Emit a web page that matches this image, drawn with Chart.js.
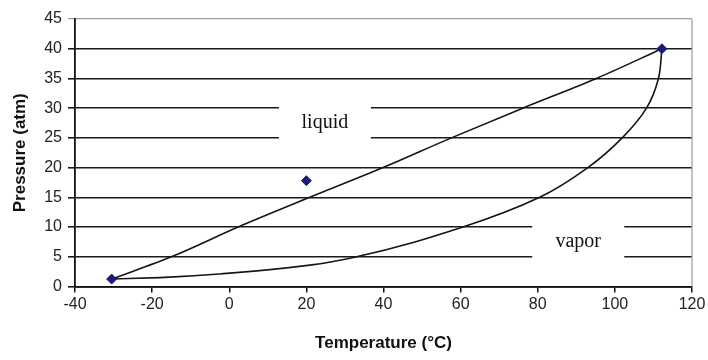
<!DOCTYPE html>
<html>
<head>
<meta charset="utf-8">
<script src="https://cdn.jsdelivr.net/npm/chart.js@4/dist/chart.umd.min.js"></script>
<style>
  html, body { margin: 0; padding: 0; background: #fff; }
  #wrap { width: 708px; height: 360px; }
</style>
</head>
<body>
<div id="wrap"><canvas id="c" width="708" height="360"></canvas></div>
<script>
// ---- data ----
// upper boundary (liquid side)
const upperTemps     = [-30.5, -15, 2.3, 20.9, 39.9, 57.6, 76.1, 95.2, 112.2];
const upperPressures = [1.25, 5, 10, 15, 20, 25, 30, 35, 40];
// lower boundary (vapor side)
const lowerTemps     = [-30.5, -18, -0.7, 20.9, 33, 60.6, 80.5, 93, 101.9, 108.2, 111.3, 112.2];
const lowerPressures = [1.25, 1.5, 2.2, 3.6, 5, 10, 15, 20, 25, 30, 35, 40];
// measured points
const markerTemps     = [-30.5, 20, 112.2];
const markerPressures = [1.25, 17.8, 40];
// region labels
const regionLabels    = ['liquid', 'vapor'];
const regionTemps     = [24.8, 90.5];
const regionPressures = [27.6, 7.6];
const xTickValues = [-40, -20, 0, 20, 40, 60, 80, 100, 120];
const yTickValues = [0, 5, 10, 15, 20, 25, 30, 35, 40, 45];

const toPts = (xs, ys) => xs.map((t, i) => ({ x: t, y: ys[i] }));

const regionPlugin = {
  id: 'regions',
  beforeDatasetsDraw(chart) {
    const ctx = chart.ctx, xs = chart.scales.x, ys = chart.scales.y;
    ctx.save();
    regionLabels.forEach((txt, i) => {
      const px = xs.getPixelForValue(regionTemps[i]);
      const py = ys.getPixelForValue(regionPressures[i]);
      ctx.fillStyle = '#fff';
      ctx.fillRect(px - 46, py - 20, 92, 40);
      ctx.fillStyle = '#111';
      ctx.font = '20px "Liberation Serif", "Times New Roman", serif';
      ctx.textAlign = 'center';
      ctx.textBaseline = 'middle';
      ctx.fillText(txt, px, py);
    });
    const a = chart.chartArea;
    ctx.strokeStyle = '#9a9a9a';
    ctx.lineWidth = 1.2;
    ctx.beginPath();
    ctx.moveTo(a.right, a.top);
    ctx.lineTo(a.right, a.bottom);
    ctx.stroke();
    ctx.restore();
  }
};

const lineStyle = {
  showLine: true,
  borderColor: '#151515',
  borderWidth: 1.6,
  pointRadius: 0,
  fill: false,
  cubicInterpolationMode: 'monotone',
  indexAxis: 'y',
  order: 1
};

new Chart(document.getElementById('c'), {
  type: 'scatter',
  data: {
    datasets: [
      {
        data: toPts(markerTemps, markerPressures),
        showLine: false,
        pointStyle: 'rectRot',
        pointRadius: 5,
        pointBackgroundColor: '#1c1c78',
        pointBorderColor: '#1c1c78',
        order: 0
      },
      Object.assign({ data: toPts(upperTemps, upperPressures) }, lineStyle),
      Object.assign({ data: toPts(lowerTemps, lowerPressures) }, lineStyle)
    ]
  },
  options: {
    responsive: false,
    animation: false,
    events: [],
    layout: { padding: { top: 19, right: 16, left: 0, bottom: 0 } },
    plugins: { legend: { display: false }, tooltip: { enabled: false } },
    scales: {
      x: {
        type: 'linear',
        min: -40, max: 120,
        afterBuildTicks(s) { s.ticks = xTickValues.map(v => ({ value: v })); },
        grid: { drawOnChartArea: false, drawTicks: true, tickLength: 6, color: '#111', lineWidth: 1.5 },
        border: { color: '#111', width: 1.8 },
        ticks: { color: '#222', padding: 2, font: { family: '"Liberation Sans", Arial, sans-serif', size: 16 }, maxRotation: 0 },
        title: { display: true, text: 'Temperature (°C)', color: '#111', padding: { top: 18, bottom: 6 },
                 font: { family: '"Liberation Sans", Arial, sans-serif', size: 17, weight: 'bold' } },
        afterFit(s) { s.height = 73.5; }
      },
      y: {
        type: 'linear',
        min: 0, max: 45,
        afterBuildTicks(s) { s.ticks = yTickValues.map(v => ({ value: v })); },
        grid: {
          drawTicks: true, tickLength: 7,
          color: c => (c.tick && c.tick.value === 45) ? '#9a9a9a' : '#1a1a1a',
          lineWidth: c => (c.tick && c.tick.value === 45) ? 1.2 : 1.6
        },
        border: { color: '#111', width: 1.8 },
        ticks: { color: '#222', padding: 6, font: { family: '"Liberation Sans", Arial, sans-serif', size: 16 } },
        title: { display: true, text: 'Pressure (atm)', color: '#111', padding: { top: 10, bottom: 4 },
                 font: { family: '"Liberation Sans", Arial, sans-serif', size: 17, weight: 'bold' } },
        afterFit(s) { s.width = 75; }
      }
    }
  },
  plugins: [regionPlugin]
});
</script>
</body>
</html>
